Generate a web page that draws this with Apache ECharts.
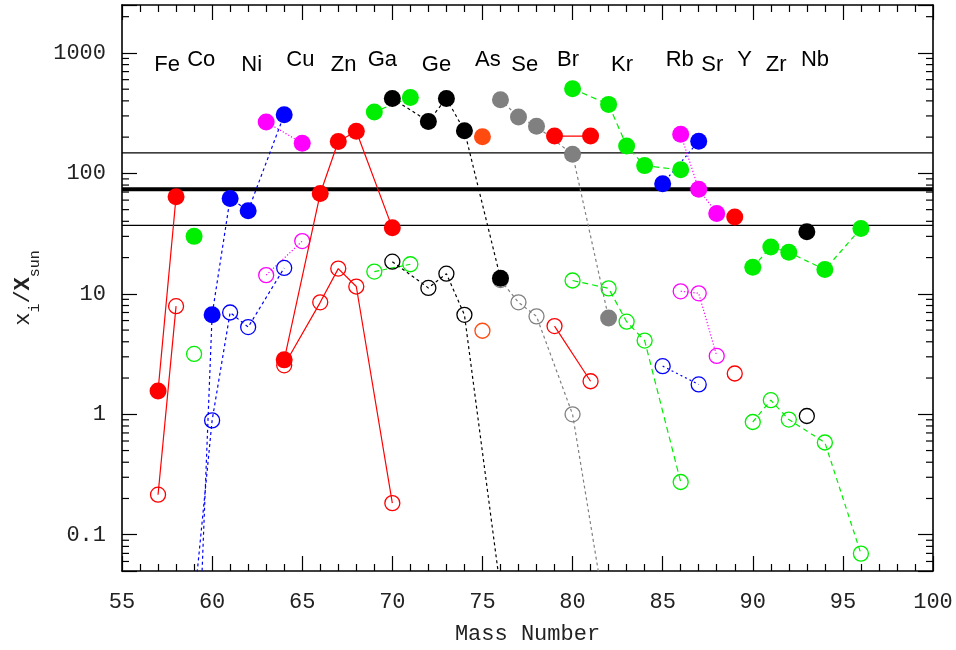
<!DOCTYPE html>
<html><head><meta charset="utf-8">
<script src="https://cdn.jsdelivr.net/npm/echarts@6/dist/echarts.min.js"></script>
<style>html,body{margin:0;padding:0;background:#fff}#c{width:956px;height:650px}</style>
</head><body><div id="c"></div>
<script>
// ---- data (mass number, enrichment factor X_i/X_sun) ----
const feMass = [57, 58],               feFilled = [1.56, 64],                   feOpen = [0.215, 7.9];
const coMass = [59],                   coFilled = [30],                         coOpen = [3.17];
const niMass = [58, 60, 61, 62, 64],   niFilled = [1.5e-7, 6.7, 62, 49, 307],   niOpen = [0.0008, 0.89, 7.0, 5.3, 16.4];
const cuMass = [63, 65],               cuFilled = [267, 178],                   cuOpen = [14.3, 27.4];
const znMass = [64, 66, 67, 68, 70],   znFilled = [2.83, 68, 184, 224, 35.3],   znOpen = [2.55, 8.5, 16.2, 11.5, 0.183];
const gaMass = [69, 71],               gaFilled = [324, 427],                   gaOpen = [15.3, 17.6];
const geMass = [70, 72, 73, 74, 76],   geFilled = [419, 270, 419, 226, 13.5],   geOpen = [18.5, 11.2, 14.7, 6.7, 0.035];
const asMass = [75],                   asFilled = [201],                        asOpen = [4.94];
const seMass = [76, 77, 78, 80, 82],   seFilled = [409, 294, 246, 144, 6.3],    seOpen = [13, 8.5, 6.5, 1.0, 0.015];
const brMass = [79, 81],               brFilled = [204, 204],                   brOpen = [5.4, 1.88];
const krMass = [80, 82, 83, 84, 86],   krFilled = [504, 374, 169, 116, 107],    krOpen = [12.9, 11.1, 5.87, 4.09, 0.274];
const rbMass = [85, 87],               rbFilled = [82, 185],                    rbOpen = [2.51, 1.77];
const srMass = [86, 87, 88],           srFilled = [211, 74, 46.5],              srOpen = [10.5, 10.1, 3.05];
const yMass  = [89],                   yFilled  = [43.5],                       yOpen  = [2.18];
const zrMass = [90, 91, 92, 94, 96],   zrFilled = [16.6, 24.5, 22.1, 15.9, 34.9], zrOpen = [0.863, 1.31, 0.904, 0.583, 0.0697];
const nbMass = [93],                   nbFilled = [32.7],                       nbOpen = [0.968];

const elementNames = ['Fe','Co','Ni','Cu','Zn','Ga','Ge','As','Se','Br','Kr','Rb','Sr','Y','Zr','Nb'];
const elementLabelX = [57.5, 59.4, 62.2, 64.9, 67.3, 69.45, 72.45, 75.3, 77.35, 79.75, 82.75, 85.95, 87.75, 89.55, 91.3, 93.45];
const elementLabelY = [790, 880, 790, 880, 790, 880, 790, 880, 790, 880, 790, 880, 790, 880, 790, 880];

const refLevels = [37, 74, 148];
const xTickValues = [55, 60, 65, 70, 75, 80, 85, 90, 95, 100];
const yTickValues = [0.1, 1, 10, 100, 1000];

// ---- styles ----
const C = {red:'#ff0000', lime:'#00ee00', blue:'#0000ff', mag:'#ff00ff', black:'#000000', gray:'#808080', orange:'#ff4a10'};
const groups = [
  {m:feMass,f:feFilled,o:feOpen,c:C.red,d:'solid'},
  {m:coMass,f:coFilled,o:coOpen,c:C.lime,d:'solid'},
  {m:niMass,f:niFilled,o:niOpen,c:C.blue,d:[3,3]},
  {m:cuMass,f:cuFilled,o:cuOpen,c:C.mag,d:[1.2,2]},
  {m:znMass,f:znFilled,o:znOpen,c:C.red,d:'solid'},
  {m:gaMass,f:gaFilled,o:gaOpen,c:C.lime,d:[5,3]},
  {m:geMass,f:geFilled,o:geOpen,c:C.black,d:[3,3]},
  {m:asMass,f:asFilled,o:asOpen,c:C.orange,d:'solid'},
  {m:seMass,f:seFilled,o:seOpen,c:C.gray,d:[3,3]},
  {m:brMass,f:brFilled,o:brOpen,c:C.red,d:'solid'},
  {m:krMass,f:krFilled,o:krOpen,c:C.lime,d:[6,4]},
  {m:rbMass,f:rbFilled,o:rbOpen,c:C.blue,d:[2,3]},
  {m:srMass,f:srFilled,o:srOpen,c:C.mag,d:[1.2,2]},
  {m:yMass,f:yFilled,o:yOpen,c:C.red,d:'solid'},
  {m:zrMass,f:zrFilled,o:zrOpen,c:C.lime,d:[5,4]},
  {m:nbMass,f:nbFilled,o:nbOpen,c:C.black,d:'solid'}
];

const monoFont = "'Liberation Mono','Courier New',monospace";
const pair = (m, v) => m.map((x, i) => [x, v[i]]);

const series = [];
// reference levels
refLevels.forEach((lv, i) => {
  series.push({type:'line', data:[[55, lv],[100, lv]], symbol:'none', silent:true, z:1,
    lineStyle:{color:'#000', width: i === 1 ? 4 : 1.3}});
});
// open circles
groups.forEach(g => {
  series.push({type:'line', data:pair(g.m, g.o), symbol:'circle', symbolSize:15, showAllSymbol:true, z:2,
    clip:true, lineStyle:{color:g.c, width:1.2, type:g.d},
    itemStyle:{color:'rgba(255,255,255,0)', borderColor:g.c, borderWidth:1.3}});
});
// filled circles
groups.forEach(g => {
  series.push({type:'line', data:pair(g.m, g.f), symbol:'circle', symbolSize:17, showAllSymbol:true, z:3,
    clip:true, lineStyle:{color:g.c, width:1.2, type:g.d},
    itemStyle:{color:g.c, borderWidth:0}});
});
// log minor ticks (2..9 per decade) on left and right frame
const minorY = [];
[-2,-1,0,1,2,3].forEach(e => { for (let k = 2; k <= 9; k++) { const v = k * Math.pow(10, e); if (v > 0.05 && v < 2500) minorY.push([55, v]); } });
series.push({type:'custom', data:minorY, silent:true, z:5, clip:false,
  renderItem:(p, api) => {
    const v = api.value(1);
    const l = api.coord([55, v]), r = api.coord([100, v]);
    return {type:'group', children:[
      {type:'line', shape:{x1:l[0], y1:l[1], x2:l[0]+7, y2:l[1]}, style:{stroke:'#000', lineWidth:1.2}},
      {type:'line', shape:{x1:r[0]-7, y1:r[1], x2:r[0], y2:r[1]}, style:{stroke:'#000', lineWidth:1.2}}
    ]};
  }});
// element labels
series.push({type:'custom', data:elementNames.map((n, i) => [elementLabelX[i], elementLabelY[i], n]), silent:true, z:6,
  renderItem:(p, api) => {
    const pt = api.coord([api.value(0), api.value(1)]);
    return {type:'text', x:pt[0], y:pt[1], style:{text:elementNames[p.dataIndex], fill:'#000',
      font:"22px 'Liberation Sans', Arial, sans-serif", align:'center', verticalAlign:'middle'}};
  }});

const axisLineStyle = {show:true, onZero:false, lineStyle:{color:'#000', width:1.6}};
const tickStyle = {show:true, inside:true, length:15, lineStyle:{color:'#000', width:1.2}};
const isPow10 = v => { const l = Math.log10(v); return Math.abs(l - Math.round(l)) < 1e-6; };

const option = {
  animation:false,
  backgroundColor:'#fff',
  grid:{left:122, right:23, top:5, bottom:77, containLabel:false},
  xAxis:[
    {type:'value', min:55, max:100, interval:5, position:'bottom',
     axisLine:axisLineStyle, axisTick:tickStyle,
     minorTick:{show:true, splitNumber:5, length:7, lineStyle:{color:'#000', width:1.2}},
     splitLine:{show:false}, minorSplitLine:{show:false},
     axisLabel:{margin:20, fontFamily:monoFont, fontSize:22, color:'#222',
       formatter:v => xTickValues.includes(v) ? String(v) : ''},
     name:'Mass Number', nameLocation:'middle', nameGap:52,
     nameTextStyle:{fontFamily:monoFont, fontSize:22, color:'#222'}},
    {type:'value', min:55, max:100, interval:5, position:'top',
     axisLine:axisLineStyle, axisTick:tickStyle,
     minorTick:{show:true, splitNumber:5, length:7, lineStyle:{color:'#000', width:1.2}},
     splitLine:{show:false}, axisLabel:{show:false}}
  ],
  yAxis:[
    {type:'log', logBase:10, min:0.05, max:2500, position:'left',
     axisLine:axisLineStyle, axisTick:tickStyle, splitLine:{show:false},
     axisLabel:{margin:16, fontFamily:monoFont, fontSize:22, color:'#222',
       formatter:v => (isPow10(v) && yTickValues.some(t => Math.abs(t - v) / t < 1e-6)) ? String(parseFloat(v.toPrecision(6))) : ''},
     name:'{x|x}{s|i}{x|/}{b|X}{s|sun}', nameLocation:'middle', nameGap:82,
     nameTextStyle:{fontFamily:monoFont, color:'#222',
       rich:{x:{fontFamily:monoFont, fontSize:22, lineHeight:30, verticalAlign:'middle'},
             b:{fontFamily:monoFont, fontSize:22, fontWeight:'bold', lineHeight:30, verticalAlign:'middle'},
             s:{fontFamily:monoFont, fontSize:15, lineHeight:30, verticalAlign:'bottom', padding:[0,0,-4,0]}}}},
    {type:'log', logBase:10, min:0.05, max:2500, position:'right',
     axisLine:axisLineStyle, axisTick:tickStyle, splitLine:{show:false}, axisLabel:{show:false}}
  ],
  series:series
};
const chart = echarts.init(document.getElementById('c'), null, {renderer:'canvas'});
chart.setOption(option);
</script></body></html>
